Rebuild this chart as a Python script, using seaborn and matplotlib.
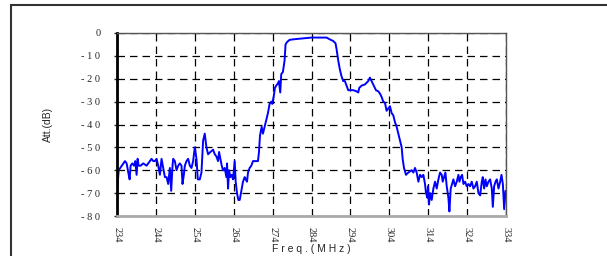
import numpy as np
import pandas as pd
import matplotlib
matplotlib.use("Agg")
import matplotlib.pyplot as plt
import seaborn as sns
from matplotlib.patches import Rectangle

# Frequency (MHz) and attenuation (dB)
freq = [234.0, 234.43, 236.05, 236.48, 236.9, 237.25, 237.5, 237.93, 238.36, 238.7,
        239.04, 239.3, 239.56, 240.07, 240.75, 241.6, 242.03, 242.89, 243.32, 243.74,
        244.17, 244.6, 245.03, 245.45, 245.88, 246.31, 246.74, 247.16, 247.59, 247.93,
        248.27, 248.44, 248.87, 249.3, 249.73, 250.15, 250.58, 250.84, 251.18, 251.44,
        251.86, 252.29, 252.72, 253.15, 253.57, 254.0, 254.43, 254.77, 255.28, 255.71,
        256.14, 256.56, 256.99, 257.42, 258.02, 258.7, 259.13, 259.56, 259.98, 260.24,
        260.58, 260.92, 261.26, 261.69, 262.12, 262.29, 262.55, 262.8, 263.15, 263.49,
        263.83, 264.26, 264.51, 264.85, 265.2, 265.54, 265.97, 266.39, 266.82, 267.08,
        267.42, 267.68, 268.1, 268.53, 268.96, 269.38, 270.24, 270.5, 270.75, 271.18,
        271.52, 271.95, 272.38, 272.8, 273.23, 273.66, 273.91, 274.26, 274.6, 274.94,
        275.37, 275.62, 275.97, 276.22, 276.65, 277.08, 277.33, 277.68, 278.36, 279.21,
        280.9, 284.0, 287.86, 288.72, 289.58, 290.18, 290.44, 290.87, 291.3, 291.73,
        292.15, 292.58, 293.01, 293.44, 293.87, 294.73, 295.59, 296.02, 296.27, 296.88,
        297.73, 298.59, 299.02, 299.45, 300.05, 300.57, 301.17, 301.6, 302.03, 302.45,
        302.88, 303.31, 303.74, 304.17, 304.6, 305.03, 305.46, 305.89, 306.32, 306.75,
        307.18, 307.43, 307.78, 308.29, 308.89, 309.75, 310.18, 310.61, 311.04, 311.47,
        311.9, 312.33, 312.76, 313.18, 313.44, 313.79, 313.96, 314.21, 314.47, 314.9,
        315.33, 315.76, 316.19, 316.62, 317.05, 317.48, 317.73, 318.08, 318.42, 318.76,
        319.19, 319.45, 319.79, 320.14, 320.48, 320.91, 321.34, 321.77, 322.03, 322.37,
        322.71, 323.06, 323.48, 323.91, 324.34, 324.77, 325.2, 325.63, 326.06, 326.49,
        326.92, 327.35, 327.78, 328.03, 328.38, 328.72, 329.06, 329.49, 329.92, 330.35,
        330.61, 330.95, 331.3, 331.64, 332.07, 332.5, 332.84, 333.19, 333.53, 333.87]
att = [-70, -60, -56, -57, -61, -64, -58, -57, -58, -56,
       -62, -55, -58, -58, -57, -58, -57, -55, -56, -56,
       -55, -58, -62, -55, -59, -63, -63, -66, -59, -69,
       -58, -55, -56, -60, -58, -57, -58, -66, -62, -58,
       -56, -55, -58, -59, -56, -50, -55, -64, -64, -61,
       -47, -44, -50, -53, -52, -51, -53, -54, -56, -52,
       -55, -58, -60, -59, -63, -57, -68, -60, -63, -62,
       -64, -56, -65, -70, -73, -73, -69, -65, -63, -64,
       -65, -61, -59, -58, -56, -56, -56, -52, -45, -41,
       -44, -41, -38, -35, -31, -30, -31, -28, -24, -23,
       -22, -21, -26, -18, -17, -12, -5, -4, -3, -2.8,
       -2.5, -2.0, -2.0, -2.8, -3.5, -4.5, -7, -12, -16, -19,
       -21, -21, -23, -25, -25, -25, -25.5, -26, -24, -23,
       -22.5, -21, -19.5, -21, -23, -25, -25.5, -26.5, -28, -30,
       -30.5, -34, -33, -32, -35, -36, -39, -41, -44, -47,
       -50, -55, -59, -62, -61, -60, -61, -59, -61, -65,
       -62, -63, -62, -66, -70, -72, -67, -75, -70, -73,
       -68, -65, -68, -64, -61, -62, -65, -63, -61, -67,
       -72, -78, -68, -66, -64, -67, -65, -62, -65, -63,
       -62, -66, -65, -67, -66, -67, -65, -68, -67, -65,
       -70, -71, -65, -63, -68, -64, -67, -65, -64, -68,
       -76, -67, -65, -64, -68, -65, -62, -66, -77, -69]

x_ticks = [234, 244, 254, 264, 274, 284, 294, 304, 314, 324, 334]
y_ticks = [0, -10, -20, -30, -40, -50, -60, -70, -80]
y_labels = ["0", "- 1 0", "- 2 0", "- 3 0", "- 4 0", "- 5 0", "- 6 0", "- 7 0", "- 8 0"]

df = pd.DataFrame({"freq": freq, "att": att})

sns.set_style("white")
plt.rcParams["font.family"] = ["Liberation Serif", "DejaVu Serif"]

fig = plt.figure(figsize=(6.07, 2.56), dpi=100)
ax = fig.add_axes([117 / 607, 1 - 216 / 256, (506 - 117) / 607, (216 - 33) / 256])

sns.lineplot(data=df, x="freq", y="att", color="#0000ff", linewidth=1.4,
             sort=False, estimator=None, ax=ax)

ax.set_xlim(234, 334)
ax.set_ylim(-80, 0)
ax.set_xticks(x_ticks)
ax.set_xticklabels([str(t) for t in x_ticks], rotation=-90, fontsize=7.5)
ax.set_yticks(y_ticks)
ax.set_yticklabels(y_labels, fontsize=7.5)
ax.tick_params(axis="y", direction="out", length=2, width=1, pad=10, left=True)
ax.tick_params(axis="x", length=0, pad=8)

# dashed grid
ax.grid(True, color="black", linestyle=(0, (6, 4)), linewidth=0.9)
ax.set_axisbelow(True)

for side in ["top", "right"]:
    ax.spines[side].set_color("#555555")
    ax.spines[side].set_linewidth(1.0)
ax.spines["left"].set_color("black")
ax.spines["left"].set_linewidth(2.0)
ax.spines["bottom"].set_color("#aaaaaa")
ax.spines["bottom"].set_linewidth(2.0)

ax.set_ylabel("Att.(dB)", fontsize=7.5, family="Liberation Sans", labelpad=10)
ax.set_xlabel("F r e q . ( M H z )", fontsize=7.5, family="Liberation Sans", labelpad=1)
ax.yaxis.set_label_coords(-0.165, 0.5)

# outer frame of the original page
fig.patches.append(Rectangle((11 / 607, -0.1), 1.2, 1.1 - 5 / 256, transform=fig.transFigure,
                             fill=False, edgecolor="#333333", linewidth=1.5))

fig.savefig("out.png", dpi=100)
